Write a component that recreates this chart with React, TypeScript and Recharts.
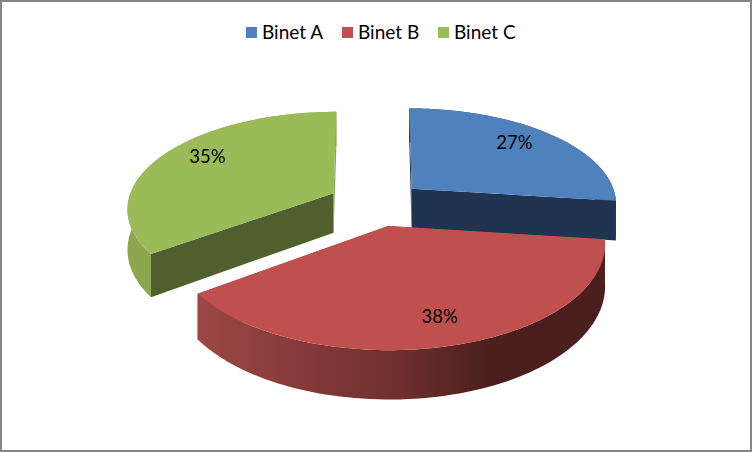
import { PieChart, Pie, Legend, Cell } from "recharts";

const categories = ["Binet A", "Binet B", "Binet C"];
const shares = [27, 38, 35];

const COLORS = ["#4f81bd", "#c0504d", "#9bbb59"];
// cut faces of each slice: [at start angle, at end angle]
const FACE_COLORS = [
  ["#1f344f", "#1f344f"],
  ["#8f3c3a", "#8f3c3a"],
  ["#4f5f2d", "#8ba64f"],
];
// left to right colours of the outer wall
const RIM_STOPS = [
  ["#1f344f", "#1f344f", "#1f344f", "#1f344f"],
  ["#9c4745", "#6e2f2d", "#4a1f1d", "#4a1f1d"],
  ["#8ba64f", "#8ba64f", "#8ba64f", "#8ba64f"],
];
// small hand nudges of the percent labels
const LABEL_NUDGE = [
  [-8, -1],
  [2, -2],
  [10, -5],
];

const data = categories.map((name, i) => ({ name, value: shares[i] }));

const CX = 376;
const CY = 203.4;
const RADIUS = 206.5;
// Fake 3D settings: how far slices are pulled out, tilt, perspective and thickness
const EXPLODE = 48;
const TILT = 0.47;
const PERSPECTIVE = 0.00075;
const DEPTH = 40;

// ground plane point (y grows towards the viewer) to screen
// the explosion part ex shrinks only half as much as the rest
function project(g: { x: number; y: number; ex: number }, drop = 0) {
  const s = 1 / (1 - PERSPECTIVE * g.y);
  return {
    x: CX + (g.ex * (s + 1)) / 2 + (g.x - g.ex) * s,
    y: CY + TILT * g.y * s + drop * s,
  };
}

// Recharts angles are counter-clockwise from 3 o'clock
function ground(angle: number, r: number, midAngle: number) {
  const a = (angle * Math.PI) / 180;
  const m = (midAngle * Math.PI) / 180;
  const ex = EXPLODE * Math.cos(m);
  return {
    ex,
    x: ex + r * Math.cos(a),
    y: -EXPLODE * Math.sin(m) - r * Math.sin(a),
  };
}

function toPath(points: { x: number; y: number }[]) {
  return (
    points
      .map((p, i) => `${i === 0 ? "M" : "L"}${p.x.toFixed(2)},${p.y.toFixed(2)}`)
      .join(" ") + " Z"
  );
}

const Slice3D = (props: any) => {
  const { startAngle, endAngle, fill, index } = props;
  const mid = (startAngle + endAngle) / 2;
  const steps = 80;
  const arc = [];
  for (let i = 0; i <= steps; i++) {
    arc.push(ground(startAngle + ((endAngle - startAngle) * i) / steps, RADIUS, mid));
  }
  const apex = ground(0, 0, mid);
  const top = arc.map((g) => project(g));
  const bottom = arc.map((g) => project(g, DEPTH));
  const apexTop = project(apex);
  const apexBottom = project(apex, DEPTH);
  const gradId = `rim-${index}`;
  const stops = RIM_STOPS[index];

  return (
    <g>
      <defs>
        <linearGradient id={gradId} x1="0" y1="0" x2="1" y2="0">
          <stop offset="0" stopColor={stops[0]} />
          <stop offset="0.5" stopColor={stops[1]} />
          <stop offset="0.72" stopColor={stops[2]} />
          <stop offset="1" stopColor={stops[3]} />
        </linearGradient>
      </defs>
      <path
        d={toPath([apexTop, top[0], bottom[0], apexBottom])}
        fill={FACE_COLORS[index][0]}
      />
      <path
        d={toPath([apexTop, top[steps], bottom[steps], apexBottom])}
        fill={FACE_COLORS[index][1]}
      />
      <path d={toPath([...top, ...bottom.slice().reverse()])} fill={`url(#${gradId})`} />
      <path d={toPath([apexTop, ...top])} fill={fill} />
    </g>
  );
};

const renderLabel = (props: any) => {
  const { midAngle, percent, index } = props;
  const p = project(ground(midAngle, RADIUS * 0.8, midAngle));
  return (
    <text
      x={p.x + LABEL_NUDGE[index][0]}
      y={p.y + LABEL_NUDGE[index][1]}
      textAnchor="middle"
      dominantBaseline="central"
      fill="#000"
      fontSize={18.5}
    >
      {`${Math.round(percent * 100)}%`}
    </text>
  );
};

const renderLegend = ({ payload }: any) => (
  <div style={{ display: "flex", justifyContent: "center", paddingLeft: 8, gap: 20 }}>
    {(payload || []).map((entry: any) => (
      <div key={entry.value} style={{ display: "flex", alignItems: "center", gap: 5 }}>
        <span style={{ width: 11, height: 11, background: entry.color, display: "block" }} />
        <span
          style={{
            color: "#000",
            fontSize: 19,
            lineHeight: "24px",
            width: 60,
            whiteSpace: "nowrap",
          }}
        >
          {entry.value}
        </span>
      </div>
    ))}
  </div>
);

export default function App() {
  return (
    <div
      style={{
        position: "absolute",
        left: 0,
        top: 0,
        width: 748,
        height: 448,
        border: "2px solid #868686",
        background: "#fff",
        fontFamily: "Lato, sans-serif",
      }}
    >
      <div style={{ position: "absolute", left: -2, top: -2 }}>
        <PieChart width={752} height={452}>
          <Pie
            data={data}
            dataKey="value"
            nameKey="name"
            cx={CX}
            cy={CY}
            outerRadius={RADIUS}
            startAngle={90}
            endAngle={-270}
            stroke="none"
            shape={Slice3D}
            label={renderLabel}
            labelLine={false}
            isAnimationActive={false}
          >
            {data.map((_, index) => (
              <Cell key={`cell-${index}`} fill={COLORS[index]} />
            ))}
          </Pie>
          <Legend
            verticalAlign="top"
            content={renderLegend}
            wrapperStyle={{ top: 20, left: 0, width: 752 }}
          />
        </PieChart>
      </div>
    </div>
  );
}
